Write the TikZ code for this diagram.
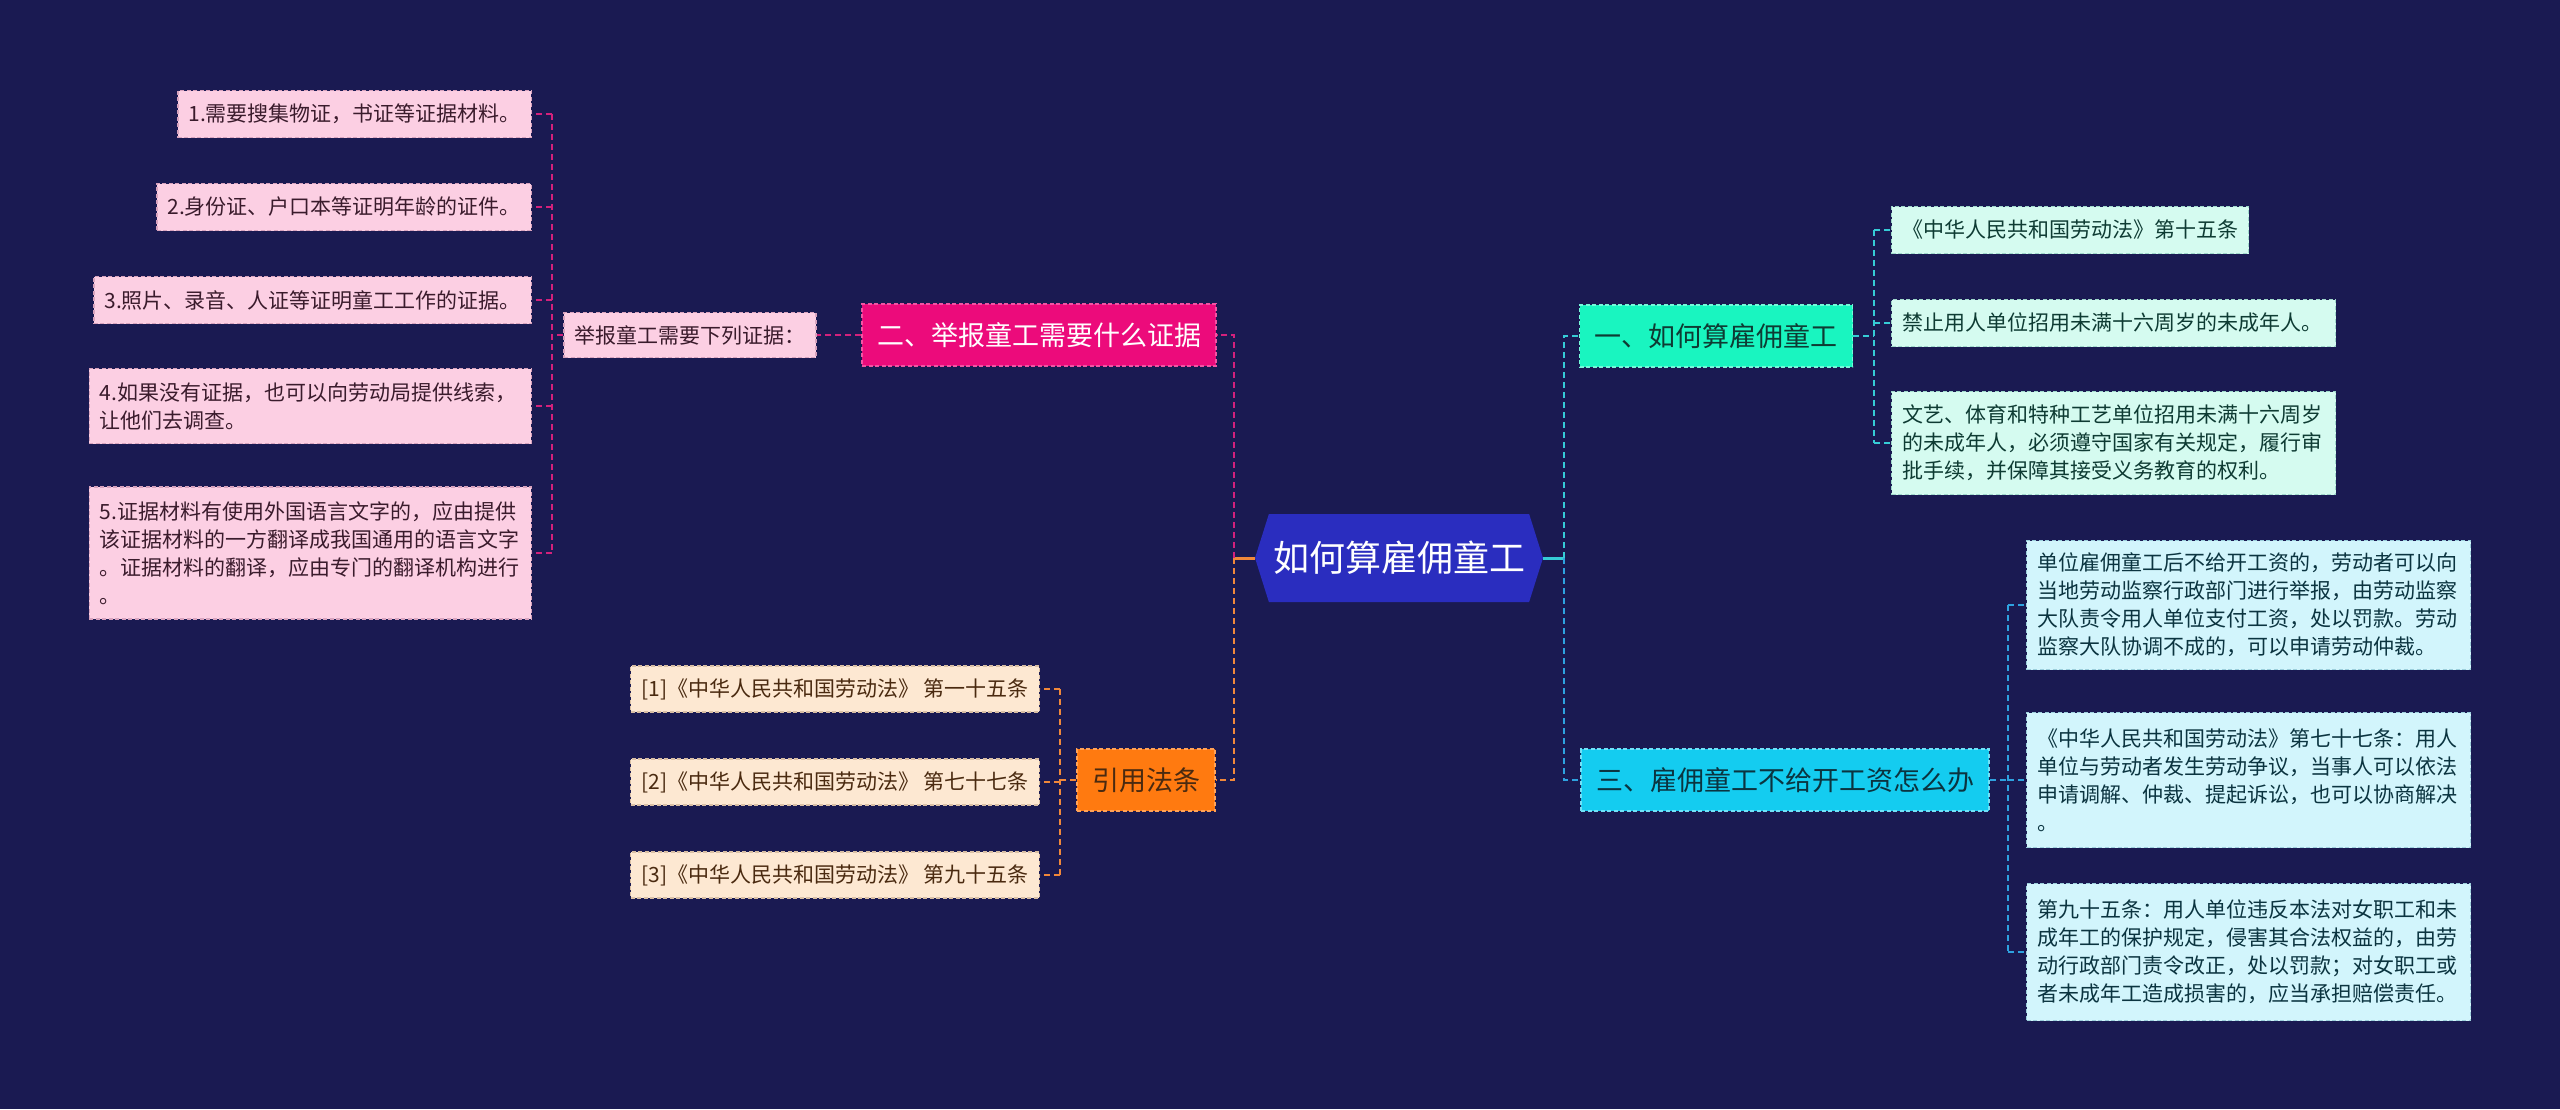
\documentclass[tikz,border=0pt]{standalone}
\usepackage{fontspec}
\setmainfont{Noto Sans CJK SC}
\usetikzlibrary{shapes.symbols}
\definecolor{bg}{HTML}{1A1A52}
\definecolor{pinkfill}{HTML}{FCCFE3}
\definecolor{pinkedge}{HTML}{D8A3BE}
\definecolor{pinktext}{HTML}{3A1B2C}
\definecolor{magenta}{HTML}{EC0B7B}
\definecolor{pinkline}{HTML}{D3217C}
\definecolor{orangefill}{HTML}{FF7A10}
\definecolor{orangeline}{HTML}{F0883A}
\definecolor{peachfill}{HTML}{FDE8D2}
\definecolor{peachedge}{HTML}{D9BFA5}
\definecolor{browntext}{HTML}{4A2A10}
\definecolor{aqua}{HTML}{19F5C0}
\definecolor{tealline}{HTML}{36CCD6}
\definecolor{mintfill}{HTML}{D5FBF0}
\definecolor{mintedge}{HTML}{9FD8CB}
\definecolor{greentext}{HTML}{0E3B33}
\definecolor{cyanfill}{HTML}{14CCF0}
\definecolor{blueline}{HTML}{2EA2E0}
\definecolor{icefill}{HTML}{D2F5FC}
\definecolor{iceedge}{HTML}{9CCFDC}
\definecolor{cyantext}{HTML}{0B3440}
\definecolor{centerfill}{HTML}{2A2DBF}
\tikzset{
  base/.style={font=\fontsize{21}{28}\selectfont, inner xsep=10.5pt, inner ysep=8pt,
    line width=1.3pt, dash pattern=on 4pt off 2.5pt},
  pinkleaf/.style={base, fill=pinkfill, draw=pinkedge, text=pinktext, minimum height=47pt},
  peachleaf/.style={base, fill=peachfill, draw=peachedge, text=browntext, minimum height=46pt},
  mintleaf/.style={base, fill=mintfill, draw=mintedge, text=greentext, minimum height=47pt},
  iceleaf/.style={base, fill=icefill, draw=iceedge, text=cyantext, minimum height=47pt},
  branch/.style={font=\fontsize{27}{32}\selectfont, inner xsep=15pt, minimum height=62pt,
    line width=1.3pt, dash pattern=on 4pt off 2.5pt},
  conn/.style={line width=2.2pt, dash pattern=on 6pt off 4pt},
  stub/.style={line width=3pt},
}
\begin{document}
\begin{tikzpicture}[x=1pt,y=-1pt]
\fill[bg] (0,0) rectangle (2560,1109);
\useasboundingbox (0,0) rectangle (2560,1109);

% center
\node[shape=signal, signal to=west and east, signal pointer angle=145, fill=centerfill,
  text=white, font=\fontsize{36}{40}\selectfont, minimum width=288pt, minimum height=88pt,
  inner xsep=4pt] (c) at (1399,558) {如何算雇佣童工};

% left branch: evidence
\node[branch, fill=magenta, draw=magenta!70!white, text=white] (b2) at (1039,335) {二、举报童工需要什么证据};
\node[pinkleaf, inner ysep=6pt, minimum height=45pt] (jb) at (690,335) {举报童工需要下列证据：};
\node[pinkleaf, anchor=east] (l1) at (532,114) {1.需要搜集物证，书证等证据材料。};
\node[pinkleaf, anchor=east] (l2) at (532,207) {2.身份证、户口本等证明年龄的证件。};
\node[pinkleaf, anchor=east] (l3) at (532,300) {3.照片、录音、人证等证明童工工作的证据。};
\node[pinkleaf, anchor=east, text width=421pt, align=left, minimum height=75pt] (l4) at (532,406)
  {4.如果没有证据，也可以向劳动局提供线索，\\让他们去调查。};
\node[pinkleaf, anchor=east, text width=421pt, align=left, minimum height=132pt] (l5) at (532,553)
  {5.证据材料有使用外国语言文字的，应由提供\\该证据材料的一方翻译成我国通用的语言文字\\。证据材料的翻译，应由专门的翻译机构进行\\。};

% left branch: laws
\node[branch, fill=orangefill, draw=orangefill!70!white, text=browntext] (b4) at (1146,780) {引用法条};
\node[peachleaf, anchor=east] (f1) at (1040,689) {[1]《中华人民共和国劳动法》 第一十五条};
\node[peachleaf, anchor=east] (f2) at (1040,782) {[2]《中华人民共和国劳动法》 第七十七条};
\node[peachleaf, anchor=east] (f3) at (1040,875) {[3]《中华人民共和国劳动法》 第九十五条};

% right branch 1
\node[branch, fill=aqua, draw=aqua!60!white, text=greentext] (b1) at (1716,336) {一、如何算雇佣童工};
\node[mintleaf, anchor=west] (r1) at (1891,230) {《中华人民共和国劳动法》第十五条};
\node[mintleaf, anchor=west, text width=423pt, align=left] (r2) at (1891,323) {禁止用人单位招用未满十六周岁的未成年人。};
\node[mintleaf, anchor=west, text width=423pt, align=left, minimum height=103pt] (r3) at (1891,443)
  {文艺、体育和特种工艺单位招用未满十六周岁\\的未成年人，必须遵守国家有关规定，履行审\\批手续，并保障其接受义务教育的权利。};

% right branch 3
\node[branch, fill=cyanfill, draw=cyanfill!60!white, text=cyantext] (b3) at (1785,780) {三、雇佣童工不给开工资怎么办};
\node[iceleaf, anchor=west, text width=423pt, align=left, minimum height=129pt] (ra) at (2026,605)
  {单位雇佣童工后不给开工资的，劳动者可以向\\当地劳动监察行政部门进行举报，由劳动监察\\大队责令用人单位支付工资，处以罚款。劳动\\监察大队协调不成的，可以申请劳动仲裁。};
\node[iceleaf, anchor=west, text width=423pt, align=left, minimum height=135pt] (rb) at (2026,780)
  {《中华人民共和国劳动法》第七十七条：用人\\单位与劳动者发生劳动争议，当事人可以依法\\申请调解、仲裁、提起诉讼，也可以协商解决\\。};
\node[iceleaf, anchor=west, text width=423pt, align=left, minimum height=137pt] (rc) at (2026,952)
  {第九十五条：用人单位违反本法对女职工和未\\成年工的保护规定，侵害其合法权益的，由劳\\动行政部门责令改正，处以罚款；对女职工或\\者未成年工造成损害的，应当承担赔偿责任。};

% junction coordinates
\coordinate (jl) at (1234,558);
\coordinate (jr) at (1564,558);
\coordinate (pv) at (552,335);
\coordinate (ov) at (1060,780);
\coordinate (tv) at (1874,336);
\coordinate (bv) at (2008,780);

% center connectors
\draw[stub, orangeline] (c.west) -- (jl);
\draw[conn, pinkline] (jl) |- (b2.east);
\draw[conn, orangeline] (jl) |- (b4.east);
\draw[stub, tealline] (c.east) -- (jr);
\draw[conn, tealline] (jr) |- (b1.west);
\draw[conn, blueline] (jr) |- (b3.west);

% evidence connectors
\draw[conn, pinkline] (b2.west) -- (jb.east);
\draw[conn, pinkline] (jb.west) -- (pv);
\draw[conn, pinkline] (pv |- l1.east) -- (pv |- l5.east);
\foreach \n in {l1,l2,l3,l4,l5} \draw[conn, pinkline] (pv |- \n.east) -- (\n.east);

% law connectors
\draw[conn, orangeline] (b4.west) -- (ov);
\draw[conn, orangeline] (ov |- f1.east) -- (ov |- f3.east);
\foreach \n in {f1,f2,f3} \draw[conn, orangeline] (ov |- \n.east) -- (\n.east);

% right branch 1 connectors
\draw[conn, tealline] (b1.east) -- (tv);
\draw[conn, tealline] (tv |- r1.west) -- (tv |- r3.west);
\foreach \n in {r1,r2,r3} \draw[conn, tealline] (tv |- \n.west) -- (\n.west);

% right branch 3 connectors
\draw[conn, blueline] (b3.east) -- (bv);
\draw[conn, blueline] (bv |- ra.west) -- (bv |- rc.west);
\foreach \n in {ra,rb,rc} \draw[conn, blueline] (bv |- \n.west) -- (\n.west);
\end{tikzpicture}
\end{document}
